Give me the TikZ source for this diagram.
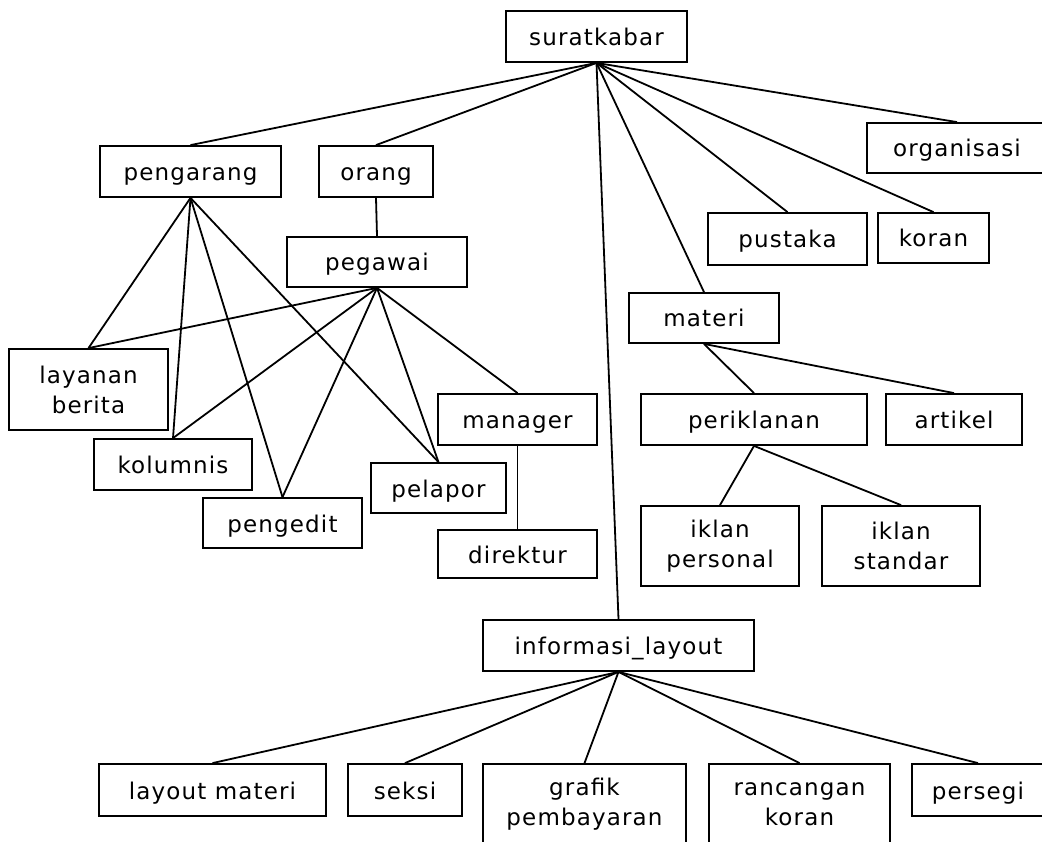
\documentclass[tikz,border=0pt]{standalone}
\usepackage{fontspec}
\setmainfont{DejaVu Sans}[LetterSpace=5]
\begin{document}
\begin{tikzpicture}[x=1pt,y=-1pt,
  base/.style={draw,line width=1.8pt,inner sep=0pt,align=center,
    font=\fontsize{23}{30}\selectfont},
  box/.style={base,minimum height=51pt,text height=18pt,text depth=0pt},
  tall/.style={base,minimum height=81pt},
  link/.style={line width=1.8pt}]
\useasboundingbox (0,0) rectangle (1042,842);
\clip (0,0) rectangle (1042,842);
\node[box,minimum width=181pt] (surat) at (596.5,36.5) {suratkabar};
\node[box,minimum width=181pt] (pengarang) at (190.5,171.5) {pengarang};
\node[box,minimum width=114pt] (orang) at (376,171.5) {orang};
\node[box,minimum width=180pt,minimum height=50pt] (organisasi) at (957,148) {organisasi};
\node[box,minimum width=159pt,minimum height=52pt] (pustaka) at (787.5,239) {pustaka};
\node[box,minimum width=111pt,minimum height=50pt] (koran) at (933.5,238) {koran};
\node[box,minimum width=180pt,minimum height=50pt] (pegawai) at (377,262) {pegawai};
\node[box,minimum width=150pt,minimum height=50pt] (materi) at (704,318) {materi};
\node[tall,minimum width=159pt] (layanan) at (88.5,389.5) {layanan\\berita};
\node[box,minimum width=159pt] (manager) at (517.5,419.5) {manager};
\node[box,minimum width=226pt] (periklanan) at (754,419.5) {periklanan};
\node[box,minimum width=136pt] (artikel) at (954,419.5) {artikel};
\node[box,minimum width=158pt] (kolumnis) at (173,464.5) {kolumnis};
\node[box,minimum width=135pt,minimum height=50pt] (pelapor) at (438.5,488) {pelapor};
\node[box,minimum width=159pt,minimum height=50pt] (pengedit) at (282.5,523) {pengedit};
\node[box,minimum width=159pt,minimum height=48pt] (direktur) at (517.5,554) {direktur};
\node[tall,minimum width=158pt,minimum height=80pt] (ipersonal) at (720,546) {iklan\\personal};
\node[tall,minimum width=158pt,minimum height=80pt] (istandar) at (901,546) {iklan\\standar};
\node[box,minimum width=271pt] (info) at (618.5,645.5) {informasi\_layout};
\node[box,minimum width=227pt,minimum height=52pt] (lmateri) at (212.5,790) {layout materi};
\node[box,minimum width=114pt,minimum height=52pt] (seksi) at (405,790) {seksi};
\node[tall,minimum width=203pt] (grafik) at (584.5,804.5) {grafik\\pembayaran};
\node[tall,minimum width=181pt] (rancangan) at (799.5,804.5) {rancangan\\koran};
\node[box,minimum width=132pt,minimum height=52pt] (persegi) at (978,790) {persegi};
\foreach \c in {pengarang,orang,organisasi,pustaka,koran,materi,info}
  \draw[link] (surat.south) -- (\c.north);
\draw[link] (orang.south) -- (pegawai.north);
\foreach \c in {layanan,kolumnis,pengedit,pelapor}
  \draw[link] (pengarang.south) -- (\c.north);
\foreach \c in {layanan,kolumnis,pengedit,pelapor,manager}
  \draw[link] (pegawai.south) -- (\c.north);
\draw[link] (manager.south) -- (direktur.north);
\foreach \c in {periklanan,artikel}
  \draw[link] (materi.south) -- (\c.north);
\foreach \c in {ipersonal,istandar}
  \draw[link] (periklanan.south) -- (\c.north);
\foreach \c in {lmateri,seksi,grafik,rancangan,persegi}
  \draw[link] (info.south) -- (\c.north);
\end{tikzpicture}
\end{document}
